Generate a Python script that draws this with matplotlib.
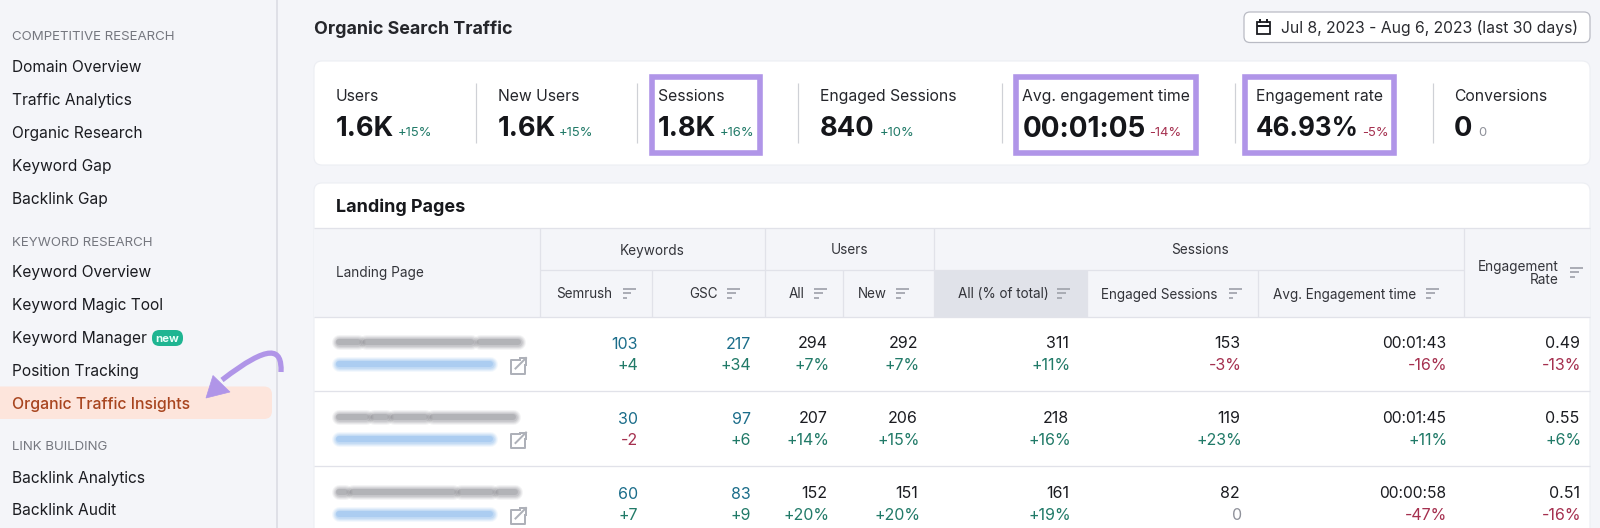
"""
Semrush Organic Traffic Insights screenshot, redrawn in pixel coordinates.
"""
import matplotlib
matplotlib.use("Agg")
import matplotlib.pyplot as plt
from matplotlib.patches import FancyBboxPatch, Rectangle, PathPatch, Polygon
from matplotlib.path import Path

# Sidebar
SIDEBAR_HEADS = ["COMPETITIVE RESEARCH", "KEYWORD RESEARCH", "LINK BUILDING"]
SIDEBAR_ITEMS = ["Domain Overview", "Traffic Analytics", "Organic Research", "Keyword Gap", "Backlink Gap",
                 "Keyword Overview", "Keyword Magic Tool", "Keyword Manager", "Position Tracking",
                 "Organic Traffic Insights", "Backlink Analytics", "Backlink Audit"]

# Metric strip
METRIC_LABELS = ["Users", "New Users", "Sessions", "Engaged Sessions",
                 "Avg. engagement time", "Engagement rate", "Conversions"]
METRIC_VALUES = ["1.6K", "1.6K", "1.8K", "840", "00:01:05", "46.93%", "0"]
METRIC_DELTAS = ["+15%", "+15%", "+16%", "+10%", "-14%", "-5%", "0"]

# Table
SEMRUSH = [("103", "+4"), ("30", "-2"), ("60", "+7")]
GSC = [("217", "+34"), ("97", "+6"), ("83", "+9")]
USERS_ALL = [("294", "+7%"), ("207", "+14%"), ("152", "+20%")]
USERS_NEW = [("292", "+7%"), ("206", "+15%"), ("151", "+20%")]
SESS_ALL = [("311", "+11%"), ("218", "+16%"), ("161", "+19%")]
SESS_ENGAGED = [("153", "-3%"), ("119", "+23%"), ("82", "0")]
SESS_TIME = [("00:01:43", "-16%"), ("00:01:45", "+11%"), ("00:00:58", "-47%")]
ENG_RATE = [("0.49", "-13%"), ("0.55", "+6%"), ("0.51", "-16%")]
SUB_HEADERS = ["Semrush", "GSC", "All", "New", "All (% of total)", "Engaged Sessions", "Avg. Engagement time"]

BG = "#f4f5f9"
LINE = "#e1e2e9"
INK = "#1b1c21"
GREY = "#6d6f7a"
GREEN = "#217a68"
RED = "#a5304f"
TEAL = "#1b6d8a"
PURPLE = "#b095e8"
SORT = "#a3a6af"

plt.rcParams["font.family"] = ["Inter", "DejaVu Sans"]

fig = plt.figure(figsize=(16, 5.28), dpi=100, facecolor=BG)
ax = fig.add_axes([0, 0, 1, 1])
ax.set_xlim(0, 1600)
ax.set_ylim(528, 0)
ax.axis("off")


def txt(x, y, s, px=15, color=INK, ha="left", weight="normal", **kw):
    return ax.text(x, y, s, fontsize=px * 0.72, color=color, ha=ha, va="center_baseline",
                   fontweight=weight, **kw)


def rrect(x0, y0, x1, y1, r=6, fc="white", ec="none", lw=0, z=1):
    ax.add_patch(FancyBboxPatch((x0, y0), x1 - x0, y1 - y0, boxstyle=f"round,pad=0,rounding_size={r}",
                                fc=fc, ec=ec, lw=lw, zorder=z))


def hline(x0, x1, y, color=LINE, w=1.3, z=2):
    ax.plot([x0, x1], [y, y], color=color, lw=w * 0.72, zorder=z, solid_capstyle="butt")


def vline(x, y0, y1, color=LINE, w=1.3, z=2):
    ax.plot([x, x], [y0, y1], color=color, lw=w * 0.72, zorder=z, solid_capstyle="butt")


def sort_icon(x0, x1, yc):
    w = x1 - x0
    for dy, frac in [(-4.5, 1.0), (0, 0.68), (4.5, 0.36)]:
        hline(x0, x0 + w * frac, yc + dy, color=SORT, w=1.8, z=4)


def blurred(x0, x1, y, color, gaps):
    # stacked translucent strokes stand in for the blurred-out page titles and links
    xs = [x0] + [g for pair in gaps for g in pair] + [x1]
    for a, b in zip(xs[0::2], xs[1::2]):
        for w, alpha in [(15, 0.07), (13, 0.09), (11, 0.12), (8.5, 0.16), (6, 0.2)]:
            ax.plot([a + 2, b - 2], [y, y], color=color, lw=w * 0.72, alpha=alpha, zorder=3,
                    solid_capstyle="round")


def link_icon(x0, yc):
    c = "#aeb1b9"
    verts = [(x0 + 9, yc - 6), (x0, yc - 6), (x0, yc + 8), (x0 + 14, yc + 8), (x0 + 14, yc - 1)]
    ax.plot(*zip(*verts), color=c, lw=2 * 0.72, zorder=4)
    ax.plot([x0 + 5, x0 + 15.5], [yc + 3, yc - 7.5], color=c, lw=2 * 0.72, zorder=4)
    ax.plot([x0 + 9, x0 + 15.5, x0 + 15.5], [yc - 7.5, yc - 7.5, yc - 1], color=c, lw=2 * 0.72, zorder=4)


# sidebar
vline(277, 0, 528, color="#dfe0e7", w=2)
rrect(-8, 386.5, 272, 419, r=8, fc="#fde5dc")
head_y = [36, 241, 446]
for s, y in zip(SIDEBAR_HEADS, head_y):
    txt(12.5, y, s, px=13.3, color="#75777f")
item_y = [66.5, 99, 132, 165, 198, 271.5, 304, 337, 370, 403, 476.5, 509]
for s, y in zip(SIDEBAR_ITEMS, item_y):
    hot = s == "Organic Traffic Insights"
    txt(12.5, y, s, px=15.85 if hot else 15.5, color="#a8451f" if hot else INK, weight="medium" if hot else "normal")
rrect(152, 330, 183, 346, r=7.5, fc="#1fb592", z=3)
txt(167.5, 337.5, "new", px=11.5, color="#e9fff8", ha="center", weight="bold", zorder=4)

# pointer arrow
curve = Path([(281, 372), (282, 348), (270, 343), (222, 380)],
             [Path.MOVETO, Path.CURVE4, Path.CURVE4, Path.CURVE4])
ax.add_patch(PathPatch(curve, fc="none", ec=PURPLE, lw=3.8, zorder=6, capstyle="butt"))
ax.add_patch(Polygon([(206, 398), (213, 375.5), (230, 392)], closed=True, fc=PURPLE, ec=PURPLE, lw=0.5, zorder=6))

# page title and date picker
txt(314, 27, "Organic Search Traffic", px=17.9, weight="bold", color="#25262b")
rrect(1244, 12, 1590, 42.5, r=6, fc="white", ec="#b9bbc4", lw=0.9)
txt(1281, 27, "Jul 8, 2023 - Aug 6, 2023 (last 30 days)", px=15.75, color="#2a2b30")
ax.add_patch(Rectangle((1256.5, 22), 13.5, 12, fc="none", ec=INK, lw=1.3, zorder=4))
hline(1256.5, 1270, 26, color=INK, w=2, z=4)
vline(1260, 19, 23, color=INK, w=2, z=4)
vline(1266.5, 19, 23, color=INK, w=2, z=4)

# metric strip
rrect(314, 61, 1590, 165, r=8, fc="white", ec="#eceef3", lw=0.8)
metric_x = [336, 497.5, 658, 819.5, 1022.5, 1255.5, 1454]
delta_x = [398, 559, 720, 880, 1149, 1362, 1478]
value_px = [27.3, 27.3, 27.3, 27.3, 28, 26, 27.3]
for x, label, val, dx, d, vp in zip(metric_x, METRIC_LABELS, METRIC_VALUES, delta_x, METRIC_DELTAS, value_px):
    txt(x, 95, label, px=15.75, color="#25262b")
    txt(x, 126.5, val, px=vp, weight="bold", color="#15161a")
    c = GREEN if d.startswith("+") else RED if d.startswith("-") else "#8f919a"
    txt(dx, 131.5, d, px=13, color=c)
for x in [476, 637, 798, 1001.5, 1234.5, 1433]:
    vline(x, 83, 142.5, color="#cfd1d6", w=1.2)
for x0, x1 in [(649.5, 763), (1013, 1199), (1242, 1397)]:
    ax.add_patch(Rectangle((x0 + 2.8, 76.8), x1 - x0 - 5.6, 76.4, fc="none", ec=PURPLE, lw=5.6 * 0.72,
                           zorder=5, joinstyle="miter"))

# table card
rrect(314, 183, 1590, 560, r=8, fc="white", ec="#eceef3", lw=0.8)
txt(336.5, 205.5, "Landing Pages", px=18, weight="bold", color="#17181c")
ax.add_patch(Rectangle((314, 227.5), 1276, 89, fc=BG, ec="none", zorder=1.5))
ax.add_patch(Rectangle((934, 270), 153, 46.5, fc="#e0e2e9", ec="none", zorder=1.6))
hline(314, 1590, 227.5)
hline(539.5, 1464, 270)
hline(314, 1590, 316.5)
hline(314, 1590, 391.3)
hline(314, 1590, 466.3)
for x, y0 in [(539.5, 227.5), (765, 227.5), (934, 227.5), (1464, 227.5),
              (652, 270), (843, 270), (1087, 270), (1258, 270)]:
    vline(x, y0, 316.5)

txt(336.5, 272, "Landing Page", px=13.6, color="#33343a")
txt(652.5, 249, "Keywords", px=13.6, ha="center", color="#33343a")
txt(850, 249, "Users", px=13.6, ha="center", color="#33343a")
txt(1200, 249, "Sessions", px=13.6, ha="center", color="#33343a")
txt(1559, 265, "Engagement", px=13.6, ha="right", color="#33343a")
txt(1559, 279, "Rate", px=13.6, ha="right", color="#33343a")
sort_icon(1570, 1583, 272)

sub_x = [556, 689, 789, 858, 958.5, 1101, 1273]
icon_x = [622.5, 727, 814, 896, 1057, 1228.5, 1426]
for s, x, ix in zip(SUB_HEADERS, sub_x, icon_x):
    txt(x, 293, s, px=13.5, color="#33343a")
    sort_icon(ix, ix + 13, 293)

row_y = [(342, 364.5), (417, 439), (492, 514.5)]
columns = [(SEMRUSH, 638, 638, TEAL, 1), (GSC, 751, 751, TEAL, 1), (USERS_ALL, 827.5, 829.5, INK, 0),
           (USERS_NEW, 918, 920, INK, 0), (SESS_ALL, 1069, 1071, INK, 0), (SESS_ENGAGED, 1240, 1242, INK, 0),
           (SESS_TIME, 1446, 1447.5, INK, 0), (ENG_RATE, 1579.5, 1581.5, INK, 0)]
for rows, xv, xd, col, off in columns:
    for (v, d), (y1, y2) in zip(rows, row_y):
        px = 15.6 if ":" in v else 16
        txt(xv, y1 + off, v, px=px, ha="right", color=col)
        c = GREEN if d.startswith("+") else RED if d.startswith("-") else "#8f919a"
        txt(xd, y2, d, px=16, ha="right", color=c)

# blurred page names and links
title_ends = [520, 515, 517]
title_gaps = [[(360, 364), (473, 478)], [(368, 372), (388, 392), (427, 431)], [(347, 351), (455, 459), (493, 497)]]
for (y1, y2), end, gaps in zip(row_y, title_ends, title_gaps):
    blurred(337, end, y1, "#6a6b72", gaps)
    blurred(337, 492, y2 - 0.5, "#5c9fe6", [])
    link_icon(510.5, y2 + 1)

fig.savefig("out.png", dpi=100)
